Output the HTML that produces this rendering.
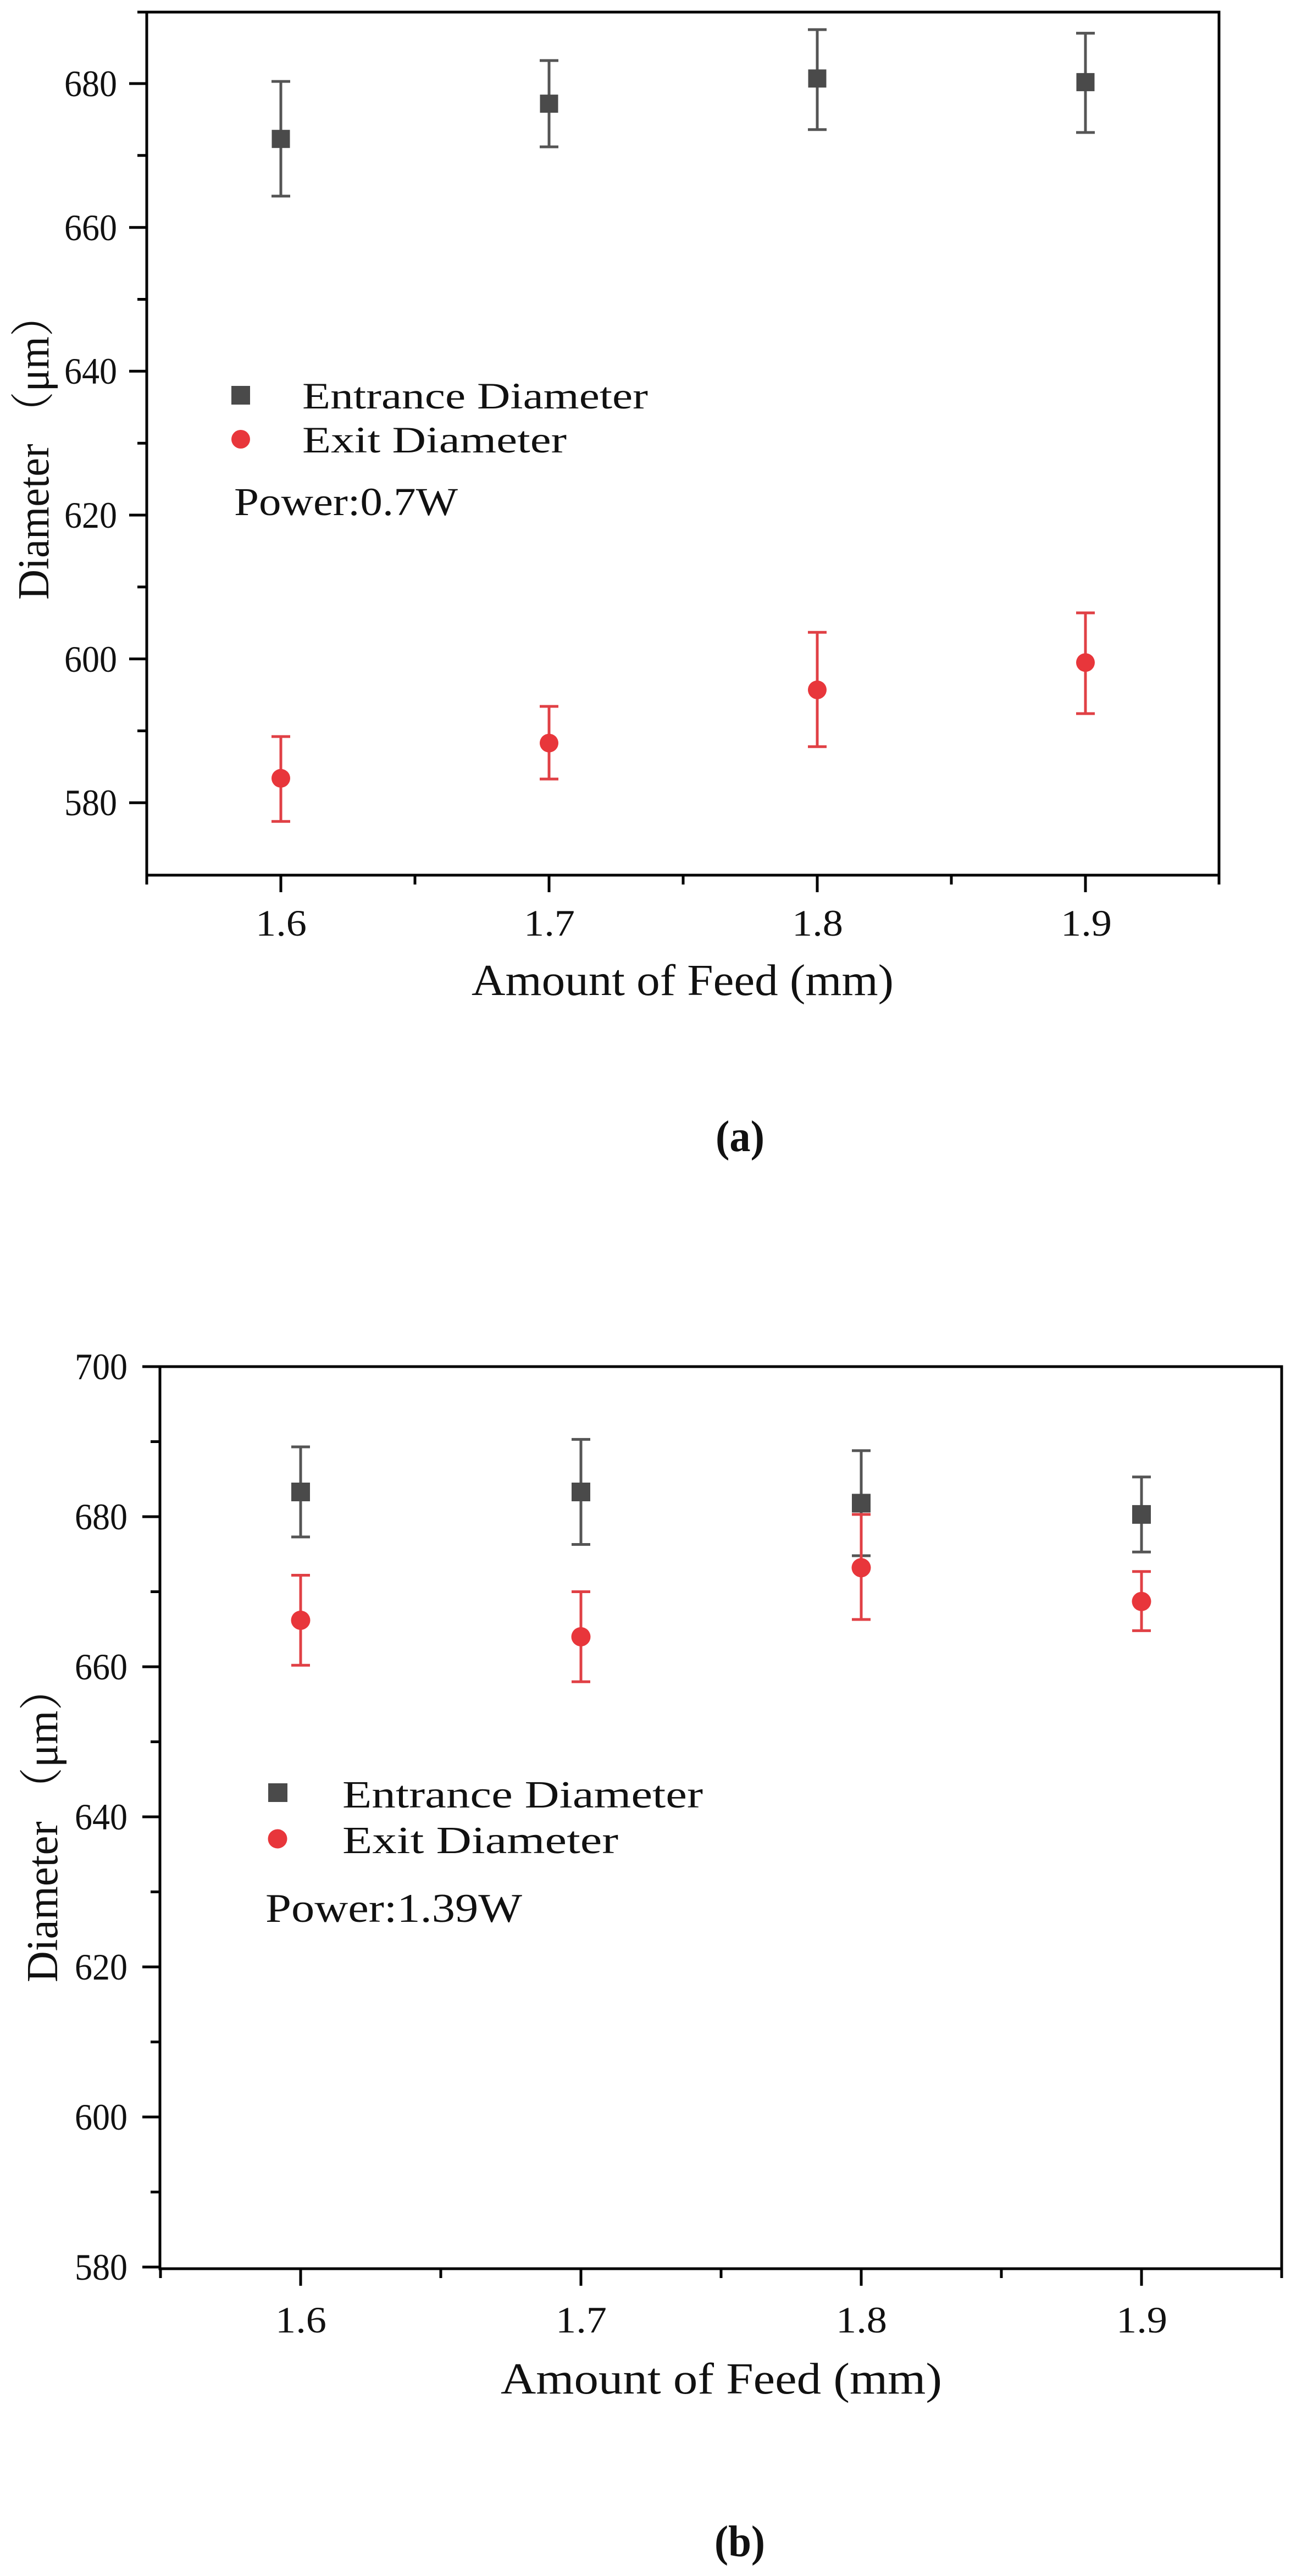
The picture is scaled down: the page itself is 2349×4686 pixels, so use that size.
<!DOCTYPE html>
<html><head><meta charset="utf-8"><style>
html,body{margin:0;padding:0;background:#fff;}
svg{display:block;}
text{font-family:"Liberation Serif","Noto Serif CJK SC",serif;fill:#111;}
</style></head><body>
<svg width="2349" height="4686" viewBox="0 0 2349 4686" xmlns="http://www.w3.org/2000/svg">
<rect width="2349" height="4686" fill="#fff"/>

<!-- ============ Chart (a) ============ -->
<g stroke="#000" stroke-width="5" fill="none">
  <rect x="267" y="22" width="1951" height="1570"/>
  <!-- y major ticks -->
  <path d="M235 1460.3H267M235 1198.6H267M235 937H267M235 675.3H267M235 413.7H267M235 152H267"/>
  <!-- y minor -->
  <path d="M250 1329.5H267M250 1067.8H267M250 806.2H267M250 544.5H267M250 282.8H267M250 22H267"/>
  <!-- x major -->
  <path d="M511 1592V1623M999 1592V1623M1487 1592V1623M1975 1592V1623"/>
  <!-- x minor -->
  <path d="M267 1592V1609M755 1592V1609M1243 1592V1609M1731 1592V1609M2218 1592V1609"/>
</g>
<g font-size="68" text-anchor="end">
  <text x="213" y="1483" textLength="96" lengthAdjust="spacingAndGlyphs">580</text>
  <text x="213" y="1222" textLength="96" lengthAdjust="spacingAndGlyphs">600</text>
  <text x="213" y="960" textLength="96" lengthAdjust="spacingAndGlyphs">620</text>
  <text x="213" y="698" textLength="96" lengthAdjust="spacingAndGlyphs">640</text>
  <text x="213" y="437" textLength="96" lengthAdjust="spacingAndGlyphs">660</text>
  <text x="213" y="175" textLength="96" lengthAdjust="spacingAndGlyphs">680</text>
</g>
<g font-size="68">
  <text x="465" y="1702" textLength="93" lengthAdjust="spacingAndGlyphs">1.6</text>
  <text x="953" y="1702" textLength="93" lengthAdjust="spacingAndGlyphs">1.7</text>
  <text x="1441" y="1702" textLength="93" lengthAdjust="spacingAndGlyphs">1.8</text>
  <text x="1930" y="1702" textLength="93" lengthAdjust="spacingAndGlyphs">1.9</text>
</g>
<text x="858" y="1810" font-size="80" textLength="768" lengthAdjust="spacingAndGlyphs">Amount of Feed (mm)</text>
<text transform="translate(88,1091) rotate(-90)" font-size="80" textLength="555" lengthAdjust="spacingAndGlyphs">Diameter （μm）</text>

<!-- entrance error bars (a) -->
<g stroke="#555" stroke-width="5">
  <path d="M511 148.1V356.8M494 148.1H528M494 356.8H528"/>
  <path d="M999 110.1V267.1M982 110.1H1016M982 267.1H1016"/>
  <path d="M1487 53.9V235.7M1470 53.9H1504M1470 235.7H1504"/>
  <path d="M1975 60.4V241M1958 60.4H1992M1958 241H1992"/>
</g>
<g fill="#4a4a4a">
  <rect x="494.5" y="236.2" width="33" height="33"/>
  <rect x="982.5" y="172.1" width="33" height="33"/>
  <rect x="1470.5" y="126.3" width="33" height="33"/>
  <rect x="1958.5" y="132.9" width="33" height="33"/>
</g>
<g stroke="#e04045" stroke-width="5">
  <path d="M511 1339.9V1494.3M494 1339.9H528M494 1494.3H528"/>
  <path d="M999 1285V1417.1M982 1285H1016M982 1417.1H1016"/>
  <path d="M1487 1150.3V1358.3M1470 1150.3H1504M1470 1358.3H1504"/>
  <path d="M1975 1114.9V1298.1M1958 1114.9H1992M1958 1298.1H1992"/>
</g>
<g fill="#e8363b">
  <circle cx="511" cy="1415.8" r="17"/>
  <circle cx="999" cy="1351.7" r="17"/>
  <circle cx="1487" cy="1254.9" r="17"/>
  <circle cx="1975" cy="1205.2" r="17"/>
</g>
<!-- legend (a) -->
<rect x="421" y="702" width="34" height="34" fill="#4a4a4a"/>
<circle cx="438" cy="799" r="17" fill="#e8363b"/>
<g font-size="68">
  <text x="550" y="743" textLength="629" lengthAdjust="spacingAndGlyphs">Entrance Diameter</text>
  <text x="550" y="823" textLength="481" lengthAdjust="spacingAndGlyphs">Exit Diameter</text>
  <text x="426" y="937" font-size="72" textLength="407" lengthAdjust="spacingAndGlyphs">Power:0.7W</text>
</g>
<text x="1302" y="2094" font-size="80" font-weight="bold" textLength="89" lengthAdjust="spacingAndGlyphs">(a)</text>

<!-- ============ Chart (b) ============ -->
<g stroke="#000" stroke-width="5" fill="none">
  <rect x="291" y="2486" width="2041" height="1641"/>
  <path d="M259 2486H291M259 2759H291M259 3032H291M259 3305H291M259 3578H291M259 3851H291M259 4124H291"/>
  <path d="M274 2622.5H291M274 2895.5H291M274 3168.5H291M274 3441.5H291M274 3714.5H291M274 3987.5H291"/>
  <path d="M547 4127V4158M1057 4127V4158M1567 4127V4158M2077 4127V4158"/>
  <path d="M292 4127V4144M802 4127V4144M1312 4127V4144M1822 4127V4144M2332 4127V4144"/>
</g>
<g font-size="68" text-anchor="end">
  <text x="232" y="2509" textLength="96" lengthAdjust="spacingAndGlyphs">700</text>
  <text x="232" y="2782" textLength="96" lengthAdjust="spacingAndGlyphs">680</text>
  <text x="232" y="3055" textLength="96" lengthAdjust="spacingAndGlyphs">660</text>
  <text x="232" y="3328" textLength="96" lengthAdjust="spacingAndGlyphs">640</text>
  <text x="232" y="3601" textLength="96" lengthAdjust="spacingAndGlyphs">620</text>
  <text x="232" y="3874" textLength="96" lengthAdjust="spacingAndGlyphs">600</text>
  <text x="232" y="4147" textLength="96" lengthAdjust="spacingAndGlyphs">580</text>
</g>
<g font-size="68">
  <text x="501" y="4243" textLength="93" lengthAdjust="spacingAndGlyphs">1.6</text>
  <text x="1011" y="4243" textLength="93" lengthAdjust="spacingAndGlyphs">1.7</text>
  <text x="1521" y="4243" textLength="93" lengthAdjust="spacingAndGlyphs">1.8</text>
  <text x="2031" y="4243" textLength="93" lengthAdjust="spacingAndGlyphs">1.9</text>
</g>
<text x="911" y="4354" font-size="80" textLength="803" lengthAdjust="spacingAndGlyphs">Amount of Feed (mm)</text>
<text transform="translate(104,3606) rotate(-90)" font-size="80" textLength="573" lengthAdjust="spacingAndGlyphs">Diameter （μm）</text>

<g stroke="#555" stroke-width="5">
  <path d="M547 2632V2795.9M530 2632H564M530 2795.9H564"/>
  <path d="M1057 2618.4V2809.5M1040 2618.4H1074M1040 2809.5H1074"/>
  <path d="M1567 2638.9V2830M1550 2638.9H1584M1550 2830H1584"/>
  <path d="M2077 2686.7V2823.2M2060 2686.7H2094M2060 2823.2H2094"/>
</g>
<g stroke="#e04045" stroke-width="5">
  <path d="M547 2865.5V3029.3M530 2865.5H564M530 3029.3H564"/>
  <path d="M1057 2895.5V3059.3M1040 2895.5H1074M1040 3059.3H1074"/>
  <path d="M1567 2754.9V2946M1550 2754.9H1584M1550 2946H1584"/>
  <path d="M2077 2858.7V2966.4M2060 2858.7H2094M2060 2966.4H2094"/>
</g>
<g fill="#4a4a4a">
  <rect x="530" y="2697" width="34" height="34"/>
  <rect x="1040" y="2697" width="34" height="34"/>
  <rect x="1550" y="2717.4" width="34" height="34"/>
  <rect x="2060" y="2737.9" width="34" height="34"/>
</g>
<g fill="#e8363b">
  <circle cx="547" cy="2947.4" r="17.5"/>
  <circle cx="1057" cy="2977.4" r="17.5"/>
  <circle cx="1567" cy="2851.8" r="17.5"/>
  <circle cx="2077" cy="2913.2" r="17.5"/>
</g>
<rect x="488" y="3244" width="35" height="34" fill="#4a4a4a"/>
<circle cx="505" cy="3345" r="17.5" fill="#e8363b"/>
<g font-size="70">
  <text x="623" y="3288" textLength="656" lengthAdjust="spacingAndGlyphs">Entrance Diameter</text>
  <text x="623" y="3371" textLength="502" lengthAdjust="spacingAndGlyphs">Exit Diameter</text>
  <text x="483" y="3496" font-size="74" textLength="467" lengthAdjust="spacingAndGlyphs">Power:1.39W</text>
</g>
<text x="1300" y="4650" font-size="80" font-weight="bold" textLength="92" lengthAdjust="spacingAndGlyphs">(b)</text>
</svg>
</body></html>
